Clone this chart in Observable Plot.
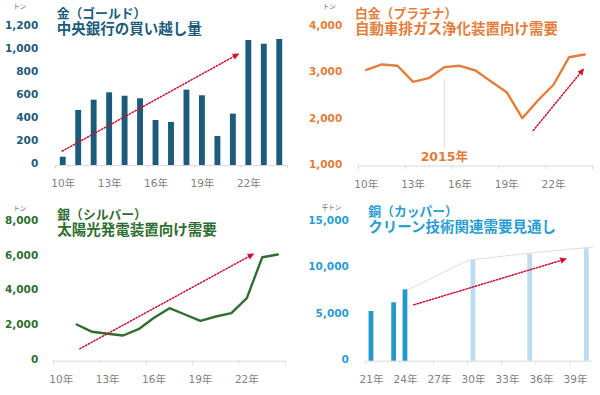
<!DOCTYPE html>
<html><head><meta charset="utf-8">
<script src="https://cdn.jsdelivr.net/npm/d3@7"></script>
<script src="https://cdn.jsdelivr.net/npm/@observablehq/plot@0.6"></script>
<style>
body{margin:0;background:#fff;}
#root{position:relative;width:600px;height:395px;overflow:hidden;background:#fff;}
.t{position:absolute;font-family:"Noto Sans CJK JP",sans-serif;font-weight:700;line-height:15px;white-space:nowrap;}
.t1{font-size:12.8px;}
.t2{font-size:14.5px;}
.unit{position:absolute;font-family:"Noto Sans CJK JP",sans-serif;font-size:6.5px;line-height:8px;color:#505050;white-space:nowrap;}
</style></head><body><div id="root"></div>
<script>
// ---------- data ----------
const goldYears = [2010,2011,2012,2013,2014,2015,2016,2017,2018,2019,2020,2021,2022,2023,2024];
const goldValues = [72,477,566,630,600,578,390,373,653,604,251,445,1083,1051,1092];
const goldArrow = [[2009.93,124],[2021.35,968]];

const platYears = [2010,2011,2012,2013,2014,2015,2016,2017,2018,2019,2020,2021,2022,2023,2024];
const platValues = [3076,3191,3163,2817,2895,3133,3163,3061,2824,2593,2032,2414,2753,3348,3407];
const platArrow = [[2020.7,1766],[2023.94,3098]];
const platMarkYear = 2015;
const platMarkRange = [1380, 2870];
const platMarkLabel = "2015年";
const platMarkLabelY = 1190;

const silverYears = [2011,2012,2013,2014,2015,2016,2017,2018,2019,2020,2021,2022,2023,2024];
const silverValues = [2109,1690,1575,1477,1839,2494,3046,2684,2322,2569,2759,3621,5977,6132];
const silverArrow = [[2011.2,713],[2022.45,6172]];

const copperActualYears = [2021,2023,2024];
const copperActualValues = [5356,6293,7694];
const copperOutlookYears = [2030,2035,2040];
const copperOutlookValues = [10851,11498,12112];
const copperTrendYears = [2024.2,2029.6,2035,2040.5];
const copperTrendValues = [7700,10900,11650,12300];
const copperArrow = [[2024.74,6078],[2038.2,11034]];

const goldTicks = [0,200,400,600,800,1000,1200];
const platTicks = [1000,2000,3000,4000];
const silverTicks = [0,2000,4000,6000,8000];
const copperTicks = [0,5000,10000,15000];
const labelYearsA = [2010,2013,2016,2019,2022];
const tickMarksA = [2009.5,2012.5,2015.5,2018.5,2021.5,2024.5];
const labelYearsB = [2021,2024,2027,2030,2033,2036,2039];
const tickMarksB = [2020.5,2023.5,2026.5,2029.5,2032.5,2035.5,2038.5];

// ---------- styles ----------
const C_GOLD = "#1d5b7b", C_PLAT = "#e27d3c", C_SILV = "#2e6e31", C_COP = "#2a9dd2";
const C_COP_DARK = "#2399c9", C_COP_LIGHT = "#bcdcf3";
const C_ARROW = "#c8102e", C_AXIS = "#d9d9d9", C_XLAB = "#7f7f7f";
const FONT = 'DejaVu Sans, "Noto Sans CJK JP", sans-serif';
const yearFmt = d => String(d).slice(2) + "年";

const root = document.getElementById("root");

function arrowMarks(pts, cfg) {
  const [p0, p1] = pts;
  const sx = (300 - cfg.ml - cfg.mr) / (cfg.xDomain[1] - cfg.xDomain[0]);
  const sy = (cfg.height - cfg.mt - cfg.mb) / (cfg.yDomain[1] - cfg.yDomain[0]);
  const dxs = (p1[0] - p0[0]) * sx, dys = -(p1[1] - p0[1]) * sy;
  const angle = Math.atan2(dxs, -dys) * 180 / Math.PI;
  const t = 0.97;
  const lineEnd = [p0[0] + (p1[0]-p0[0])*t, p0[1] + (p1[1]-p0[1])*t];
  return [
    Plot.line([p0, lineEnd], {x: d => d[0], y: d => d[1], stroke: C_ARROW, strokeWidth: 1.5, strokeDasharray: "1.4,1.8"}),
    Plot.vector([p1], {x: d => d[0], y: d => d[1], shape: "spike", anchor: "end", length: 6, r: 2.8, rotate: angle, fill: C_ARROW, stroke: C_ARROW, strokeWidth: 0.5})
  ];
}

function panel(cfg) {
  const svg = Plot.plot({
    width: 300, height: cfg.height,
    marginLeft: cfg.ml, marginRight: cfg.mr, marginTop: cfg.mt, marginBottom: cfg.mb,
    x: {domain: cfg.xDomain},
    y: {domain: cfg.yDomain},
    style: {fontFamily: FONT, fontSize: "10.5px", background: "transparent", overflow: "visible"},
    marks: [
      Plot.axisY({ticks: cfg.yTicks, tickSize: 0, tickPadding: cfg.yPad, tickFormat: d3.format(","), fontWeight: "bold", color: cfg.color, dy: -1.5, label: null}),
      Plot.axisX({ticks: cfg.tickMarks, tickSize: 3.5, tickFormat: () => "", color: C_AXIS, label: null}),
      Plot.axisX({ticks: cfg.labelYears, tickSize: 0, tickPadding: 14.5, tickFormat: yearFmt, color: C_XLAB, label: null}),
      Plot.ruleY([cfg.yDomain[0]], {stroke: C_AXIS, strokeWidth: 1}),
      ...cfg.marks,
      ...arrowMarks(cfg.arrow, cfg)
    ]
  });
  svg.style.position = "absolute";
  svg.style.left = cfg.left + "px";
  svg.style.top = cfg.top + "px";
  root.appendChild(svg);
}

function title(left, top, color, l1, l2) {
  const a = document.createElement("div");
  a.className = "t t1";
  a.style.left = left + "px"; a.style.top = (top + 0.1) + "px"; a.style.color = color;
  a.textContent = l1;
  root.appendChild(a);
  const b = document.createElement("div");
  b.className = "t t2";
  b.style.left = left + "px"; b.style.top = (top + 15) + "px"; b.style.color = color;
  b.textContent = l2;
  root.appendChild(b);
}
function unit(left, top, text) {
  const d = document.createElement("div");
  d.className = "unit";
  d.style.left = left + "px"; d.style.top = top + "px";
  d.textContent = text;
  root.appendChild(d);
}

// Gold
const goldData = goldYears.map((y, i) => ({year: y, value: goldValues[i]}));
panel({
  left: 0, top: 0, height: 197, ml: 55, mr: 13, mt: 26.5, mb: 32,
  xDomain: [2009.5, 2024.5], yDomain: [0, 1200], yTicks: goldTicks, yPad: 17.3, color: C_GOLD,
  tickMarks: tickMarksA, labelYears: labelYearsA, arrow: goldArrow,
  marks: [
    Plot.rectY(goldData, {x1: d => d.year - 0.19, x2: d => d.year + 0.19, y: "value", fill: C_GOLD})
  ]
});

// Platinum
const platData = platYears.map((y, i) => ({year: y, value: platValues[i]}));
panel({
  left: 300, top: 0, height: 197, ml: 58, mr: 8, mt: 26.5, mb: 31.5,
  xDomain: [2009.5, 2024.5], yDomain: [1000, 4000], yTicks: platTicks, yPad: 16.3, color: C_PLAT,
  tickMarks: tickMarksA, labelYears: labelYearsA, arrow: platArrow,
  marks: [
    Plot.ruleX([platMarkYear], {y1: platMarkRange[0], y2: platMarkRange[1], stroke: C_AXIS, strokeWidth: 1}),
    Plot.text([platMarkLabel], {x: platMarkYear, y: platMarkLabelY, text: d => d, fill: C_PLAT, fontWeight: "bold", fontSize: 12.5}),
    Plot.line(platData, {x: "year", y: "value", stroke: C_PLAT, strokeWidth: 2.4, strokeLinejoin: "round"})
  ]
});

// Silver
const silverData = silverYears.map((y, i) => ({year: y, value: silverValues[i]}));
panel({
  left: 0, top: 195, height: 200, ml: 53, mr: 15, mt: 26.5, mb: 34.3,
  xDomain: [2009.5, 2024.5], yDomain: [0, 8000], yTicks: silverTicks, yPad: 15.3, color: C_SILV,
  tickMarks: tickMarksA, labelYears: labelYearsA, arrow: silverArrow,
  marks: [
    Plot.line(silverData, {x: "year", y: "value", stroke: C_SILV, strokeWidth: 2.4, strokeLinejoin: "round"})
  ]
});

// Copper
const copActual = copperActualYears.map((y, i) => ({year: y, value: copperActualValues[i]}));
const copOutlook = copperOutlookYears.map((y, i) => ({year: y, value: copperOutlookValues[i]}));
const copTrend = copperTrendYears.map((y, i) => ({year: y, value: copperTrendValues[i]}));
panel({
  left: 300, top: 195, height: 200, ml: 65.3, mr: 8, mt: 26.5, mb: 34.3,
  xDomain: [2020.5, 2040.5], yDomain: [0, 15000], yTicks: copperTicks, yPad: 17, color: C_COP,
  tickMarks: tickMarksB, labelYears: labelYearsB, arrow: copperArrow,
  marks: [
    Plot.line(copTrend, {x: "year", y: "value", stroke: "#dcdcdc", strokeWidth: 1}),
    Plot.rectY(copActual, {x1: d => d.year - 0.21, x2: d => d.year + 0.21, y: "value", fill: C_COP_DARK}),
    Plot.rectY(copOutlook, {x1: d => d.year - 0.21, x2: d => d.year + 0.21, y: "value", fill: C_COP_LIGHT})
  ]
});

title(56.7, 5, C_GOLD, "金（ゴールド）", "中央銀行の買い越し量");
title(355, 5, C_PLAT, "白金（プラチナ）", "自動車排ガス浄化装置向け需要");
title(57.3, 205.7, C_SILV, "銀（シルバー）", "太陽光発電装置向け需要");
title(368.3, 203, C_COP, "銅（カッパー）", "クリーン技術関連需要見通し");
unit(13.3, 1.8, "トン");
unit(322.7, 1.5, "トン");
unit(13.3, 203.5, "トン");
unit(321.7, 203, "千トン");
</script></body></html>
